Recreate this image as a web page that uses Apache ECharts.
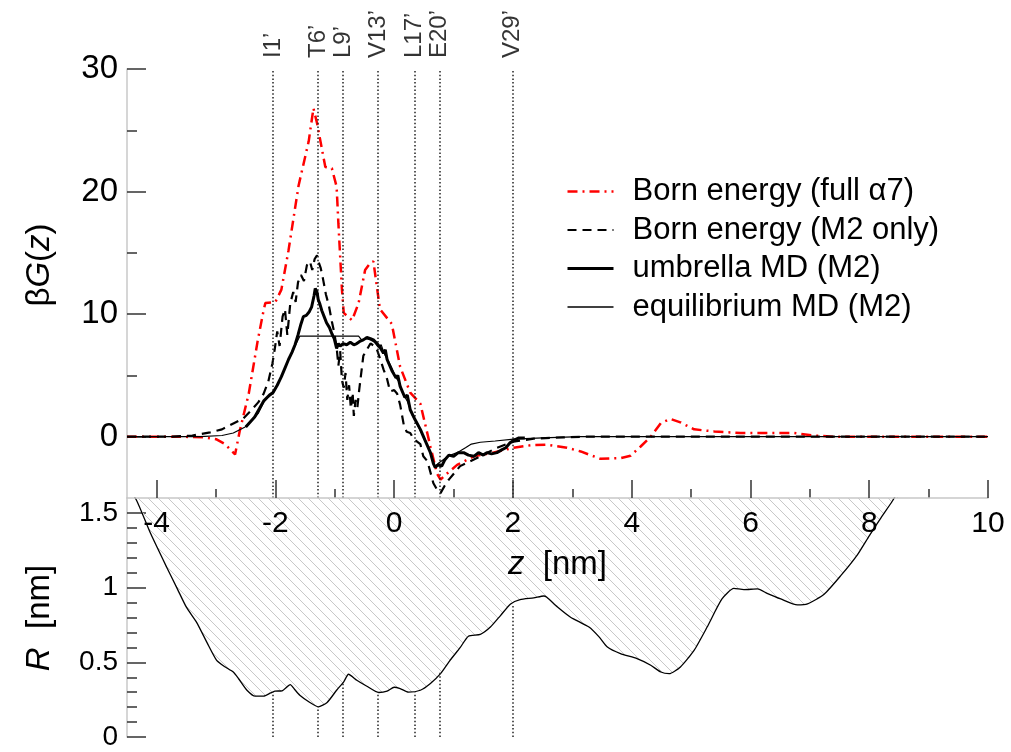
<!DOCTYPE html>
<html>
<head>
<meta charset="utf-8">
<script src="https://cdn.jsdelivr.net/npm/echarts@6/dist/echarts.min.js"></script>
<style>
html, body { margin: 0; padding: 0; background: #fff; }
#main { width: 1011px; height: 752px; }
</style>
</head>
<body>
<div id="main"></div>
<script>
(function() {
"use strict";

    // Born energy (full alpha7), [z, betaG]
    var bornFull = [[-4.5,0],[-3.6,0],[-3.2,-0.05],[-3.0,-0.2],[-2.85,-0.6],[-2.68,-1.45],[-2.6,0.5],[-2.45,3.5],
        [-2.3,7.8],[-2.2,10.3],[-2.17,10.9],[-2.0,11.0],[-1.9,12.0],[-1.78,15.2],[-1.61,20.5],[-1.44,24.1],
        [-1.36,26.8],[-1.30,25.6],[-1.16,22.0],[-1.05,21.9],[-0.97,20.4],[-0.94,17.4],[-0.88,12.0],[-0.85,10.1],
        [-0.71,9.5],[-0.60,10.9],[-0.49,13.6],[-0.40,14.2],[-0.35,14.3],[-0.24,10.4],[-0.04,9.2],[0.10,5.7],
        [0.27,3.6],[0.44,2.7],[0.61,-0.8],[0.72,-3.0],[0.78,-3.5],[0.89,-3.0],[1.06,-2.3],[1.34,-1.6],
        [1.62,-1.35],[2.01,-0.9],[2.3,-0.7],[2.57,-0.65],[2.91,-0.9],[3.14,-1.2],[3.47,-1.8],[3.81,-1.75],
        [3.98,-1.55],[4.15,-0.8],[4.32,0.0],[4.49,1.1],[4.65,1.45],[4.82,1.17],[5.05,0.6],[5.39,0.43],
        [5.83,0.3],[6.28,0.3],[6.73,0.3],[7.07,0.1],[7.4,0],[10,0]];

    // Born energy (M2 only)
    var bornM2 = [[-4.5,0],[-3.8,0],[-3.4,0.1],[-3.1,0.35],[-2.9,0.6],[-2.7,1.1],[-2.54,1.5],[-2.4,2.2],
        [-2.29,2.8],[-2.2,3.5],[-2.12,4.5],[-2.05,6.0],[-2.01,7.2],[-1.97,8.6],[-1.93,7.4],[-1.88,9.8],
        [-1.84,10.4],[-1.80,8.3],[-1.75,10.9],[-1.70,11.8],[-1.66,11.0],[-1.62,12.6],[-1.57,13.2],[-1.52,12.7],
        [-1.47,14.0],[-1.42,14.3],[-1.38,13.6],[-1.34,14.5],[-1.30,14.8],[-1.27,14.2],[-1.24,13.8],[-1.20,12.9],
        [-1.15,11.6],[-1.10,10.7],[-1.05,9.4],[-1.01,8.5],[-0.97,7.3],[-0.94,5.8],[-0.91,7.0],[-0.88,4.6],
        [-0.85,4.0],[-0.82,5.2],[-0.79,3.0],[-0.76,4.2],[-0.73,2.3],[-0.70,3.6],[-0.68,1.7],[-0.65,3.0],
        [-0.62,2.4],[-0.59,3.8],[-0.56,5.0],[-0.52,6.6],[-0.46,7.1],[-0.40,7.6],[-0.33,7.4],[-0.29,7.1],
        [-0.22,6.1],[-0.18,5.5],[-0.12,4.7],[-0.07,3.7],[0.0,3.8],[0.05,3.5],[0.10,2.6],[0.16,1.0],
        [0.21,0.4],[0.27,0.3],[0.33,-0.2],[0.44,-0.6],[0.49,-1.6],[0.56,-2.0],[0.61,-2.9],[0.66,-3.8],
        [0.72,-4.3],[0.78,-4.6],[0.85,-4.0],[0.92,-3.5],[1.11,-2.4],[1.45,-1.6],[1.73,-0.9],[2.01,-0.4],
        [2.35,-0.16],[2.85,-0.05],[3.2,0],[10,0]];

    // umbrella MD (M2)
    var umbrella = [[-2.5,0.8],[-2.35,1.6],[-2.2,2.9],[-2.1,3.4],[-2.04,3.6],[-1.97,4.2],[-1.90,4.9],[-1.84,5.6],
        [-1.78,6.3],[-1.72,6.9],[-1.67,7.5],[-1.62,8.3],[-1.57,9.2],[-1.53,9.8],[-1.48,9.9],[-1.43,10.2],
        [-1.39,10.6],[-1.35,11.5],[-1.33,12.1],[-1.30,11.8],[-1.28,11.2],[-1.25,10.8],[-1.22,10.3],[-1.18,9.8],
        [-1.14,9.3],[-1.09,8.9],[-1.05,8.4],[-1.01,8.0],[-0.97,7.2],[-0.94,7.6],[-0.91,7.4],[-0.86,7.6],
        [-0.80,7.5],[-0.74,7.7],[-0.68,7.5],[-0.63,7.6],[-0.57,7.8],[-0.52,7.9],[-0.46,8.1],[-0.40,8.0],
        [-0.35,7.9],[-0.29,7.6],[-0.24,7.3],[-0.18,6.8],[-0.15,7.1],[-0.12,6.3],[-0.04,5.4],[0.03,4.8],
        [0.06,5.0],[0.10,4.1],[0.18,3.2],[0.22,3.4],[0.27,2.2],[0.35,1.4],[0.44,0.6],[0.52,-0.3],
        [0.61,-1.3],[0.66,-2.2],[0.69,-2.5],[0.74,-2.3],[0.80,-2.4],[0.85,-1.9],[0.92,-1.5],[1.0,-1.6],
        [1.08,-1.3],[1.17,-1.3],[1.25,-1.5],[1.34,-1.6],[1.42,-1.3],[1.50,-1.5],[1.56,-1.3],[1.64,-1.4],
        [1.73,-1.3],[1.80,-1.1],[1.88,-0.9],[1.95,-0.5],[2.01,-0.3],[2.1,-0.1],[2.2,-0.1]];

    // equilibrium MD (M2)
    var equil = [[-4.5,0],[-3.5,0],[-3.27,0.0],[-2.9,0.1],[-2.71,0.3],[-2.51,0.8],[-2.38,1.4],[-2.29,1.9],
        [-2.18,3.0],[-2.1,3.3],[-2.04,3.55],[-1.97,4.2],[-1.90,4.9],[-1.78,6.3],[-1.67,7.4],[-1.59,8.2],
        [-0.60,8.2],[-0.55,7.9],[-0.47,8.0],[-0.40,7.9],[-0.33,7.7],[-0.27,7.3],[-0.22,7.5],[-0.16,6.7],
        [-0.10,6.2],[-0.04,5.6],[0.03,4.8],[0.08,4.5],[0.14,3.6],[0.22,2.9],[0.30,1.8],[0.38,1.1],
        [0.46,0.3],[0.55,-0.6],[0.62,-1.5],[0.69,-2.4],[0.76,-2.1],[0.85,-1.8],[0.95,-1.5],[1.06,-1.3],
        [1.2,-0.9],[1.3,-0.6],[1.45,-0.45],[1.7,-0.35],[2.01,-0.2],[2.5,-0.1],[3.14,0],[10,0]];

    // pore radius R(z) [nm]
    var radius = [[-4.5,1.68],[-4.34,1.585],[-4.1,1.36],[-3.83,1.135],[-3.65,0.99],[-3.5,0.869],[-3.33,0.769],
        [-3.15,0.63],[-2.99,0.513],[-2.85,0.47],[-2.71,0.435],[-2.62,0.39],[-2.48,0.313],[-2.34,0.273],
        [-2.20,0.273],[-2.08,0.295],[-2.01,0.307],[-1.89,0.309],[-1.75,0.351],[-1.68,0.32],[-1.59,0.28],
        [-1.42,0.231],[-1.28,0.202],[-1.13,0.231],[-0.97,0.313],[-0.85,0.369],[-0.77,0.42],[-0.63,0.38],
        [-0.46,0.34],[-0.26,0.298],[-0.12,0.307],[0,0.333],[0.10,0.324],[0.24,0.3],[0.44,0.313],
        [0.61,0.358],[0.78,0.424],[0.94,0.513],[1.11,0.598],[1.25,0.675],[1.45,0.687],[1.62,0.736],
        [1.79,0.813],[1.96,0.891],[2.12,0.92],[2.35,0.931],[2.52,0.944],[2.57,0.935],[2.75,0.87],
        [2.97,0.802],[3.28,0.736],[3.45,0.67],[3.59,0.602],[3.81,0.558],[4.09,0.524],[4.32,0.48],
        [4.49,0.435],[4.63,0.424],[4.82,0.469],[5.05,0.58],[5.27,0.736],[5.52,0.924],[5.72,0.995],
        [5.89,0.987],[6.12,0.991],[6.28,0.962],[6.51,0.924],[6.79,0.884],[6.96,0.891],[7.24,0.956],
        [7.52,1.08],[7.80,1.22],[8.0,1.347],[8.20,1.469],[8.39,1.58],[8.6,1.72]];

    // pore-lining residues
    var residueNames = ['I1\u2019', 'T6\u2019', 'L9\u2019', 'V13\u2019', 'L17\u2019', 'E20\u2019', 'V29\u2019'];
    var residueZ = [-2.04, -1.28, -0.86, -0.27, 0.34, 0.76, 1.99];
    var residueR = [0.30, 0.20, 0.37, 0.30, 0.30, 0.43, 0.88];

    // ticks
    var zMajor = [-4, -2, 0, 2, 4, 6, 8, 10];
    var zMinor = [-3, -1, 1, 3, 5, 7, 9];
    var gMajor = [0, 10, 20, 30];
    var gMinor = [5, 15, 25];
    var rMajor = [0, 0.5, 1, 1.5];
    var rMinor = [0.1, 0.2, 0.3, 0.4, 0.6, 0.7, 0.8, 0.9, 1.1, 1.2, 1.3, 1.4];

    var FONT = 'Liberation Sans';
    var AXIS_GRAY = '#c8c8c8';
    var TICK = '#333';

    function hatch() { // 斜线填充
        var c = document.createElement('canvas');
        c.width = 10;
        c.height = 10;
        var g = c.getContext('2d');
        g.strokeStyle = '#c8c8c8';
        g.lineWidth = 1;
        g.beginPath();
        g.moveTo(-1, -1); g.lineTo(11, 11);
        g.moveTo(-1, 9); g.lineTo(1, 11);
        g.moveTo(9, -1); g.lineTo(11, 1);
        g.stroke();
        return c;
    }

    // 只画刻度的坐标轴
    function tickAxis(grid, vals, len, extra) {
        var a = {
            type: 'value',
            gridIndex: grid,
            axisLine: { show: false, onZero: false },
            splitLine: { show: false },
            axisLabel: { show: false },
            axisTick: { show: true, inside: true, length: len, customValues: vals,
                lineStyle: { color: TICK, width: 1.5 } }
        };
        for (var k in extra) a[k] = extra[k];
        return a;
    }

    var labelPts = [];
    for (var i = 0; i < residueZ.length; i++) {
        labelPts.push({ name: residueNames[i], value: [residueZ[i], 30] });
    }
    var topLines = [];
    var bottomLines = [];
    for (var j = 0; j < residueZ.length; j++) {
        topLines.push({ xAxis: residueZ[j] });
        bottomLines.push([{ coord: [residueZ[j], 0] }, { coord: [residueZ[j], residueR[j]] }]);
    }
    var dotted = { color: '#222', width: 1.5, type: [1.5, 2.2] };

    var xMain = tickAxis(0, zMajor, 18, { min: -4.5, max: 10, position: 'bottom', z: 10,
        name: '{i|z}{n|  [nm]}', nameLocation: 'middle', nameGap: 50,
        nameTextStyle: { rich: {
            i: { fontFamily: FONT, fontSize: 33, fontStyle: 'italic', color: '#000' },
            n: { fontFamily: FONT, fontSize: 33, color: '#000' } } } });
    xMain.axisLine = { show: true, onZero: false, lineStyle: { color: AXIS_GRAY, width: 1.5 } };
    xMain.axisLabel = { show: true, customValues: zMajor, margin: 11, color: '#000',
        fontFamily: FONT, fontSize: 30 };

    var yTop = tickAxis(0, gMajor, 19, { min: -5, max: 30, position: 'left' });
    yTop.axisLine = { show: true, onZero: false, lineStyle: { color: AXIS_GRAY, width: 1.5 } };
    yTop.axisLabel = { show: true, customValues: gMajor, margin: 9, color: '#000',
        fontFamily: FONT, fontSize: 33 };

    var yBot = tickAxis(1, rMajor, 19, { min: 0, max: 1.6, position: 'left' });
    yBot.axisLine = { show: true, onZero: false, lineStyle: { color: AXIS_GRAY, width: 1.5 } };
    yBot.axisLabel = { show: true, customValues: rMajor, margin: 9, color: '#000',
        fontFamily: FONT, fontSize: 28 };

    var option = {
        animation: false,
        backgroundColor: '#fff',
        grid: [
            { left: 127, right: 23, top: 69, height: 429 },
            { left: 127, right: 23, top: 498, height: 239 }
        ],
        xAxis: [
            xMain,
            tickAxis(0, zMinor, 9, { min: -4.5, max: 10, position: 'bottom', offset: 0 }),
            { type: 'value', gridIndex: 1, min: -4.5, max: 10, show: false }
        ],
        yAxis: [
            yTop,
            tickAxis(0, gMinor, 10, { min: -5, max: 30, position: 'left', offset: 0 }),
            yBot,
            tickAxis(1, rMinor, 10, { min: 0, max: 1.6, position: 'left', offset: 0 })
        ],
        legend: {
            data: [
                { name: 'Born energy (full \u03b17)', lineStyle: { width: 2.5 } },
                { name: 'Born energy (M2 only)', lineStyle: { width: 2.2 } },
                { name: 'umbrella MD (M2)', lineStyle: { width: 3 } },
                { name: 'equilibrium MD (M2)', lineStyle: { width: 1.3 } }
            ],
            orient: 'vertical',
            left: 566,
            top: 176,
            padding: 0,
            itemWidth: 46,
            itemHeight: 14,
            itemGap: 7.5,
            itemStyle: { opacity: 0 },
            textStyle: { fontFamily: FONT, fontSize: 31, color: '#000', padding: [0, 0, 0, 14] }
        },
        graphic: [
            { type: 'text', x: 40, y: 265, rotation: Math.PI / 2,
                style: { text: '{n|\u03b2}{i|G}{n|(}{i|z}{n|)}', align: 'center', verticalAlign: 'middle',
                    rich: { i: { fontFamily: FONT, fontSize: 33, fontStyle: 'italic', fill: '#000' },
                            n: { fontFamily: FONT, fontSize: 33, fill: '#000' } } } },
            { type: 'text', x: 40, y: 618, rotation: Math.PI / 2,
                style: { text: '{i|R}{n|  [nm]}', align: 'center', verticalAlign: 'middle',
                    rich: { i: { fontFamily: FONT, fontSize: 33, fontStyle: 'italic', fill: '#000' },
                            n: { fontFamily: FONT, fontSize: 33, fill: '#000' } } } }
        ],
        series: [
            {
                name: 'residues',
                type: 'scatter',
                xAxisIndex: 0, yAxisIndex: 0,
                symbolSize: 0,
                silent: true,
                data: labelPts,
                label: { show: true, position: 'top', distance: 11, rotate: 90, align: 'left',
                    verticalAlign: 'middle', formatter: '{b}', fontFamily: FONT, fontSize: 24, color: '#000' },
                markLine: { silent: true, symbol: 'none', label: { show: false },
                    lineStyle: dotted, data: topLines }
            },
            {
                name: 'Born energy (full \u03b17)',
                type: 'line',
                xAxisIndex: 0, yAxisIndex: 0,
                symbol: 'none',
                data: bornFull,
                lineStyle: { color: '#ff0000', width: 2.5, type: [10, 5, 2, 5] },
                itemStyle: { color: '#ff0000' },
                z: 3
            },
            {
                name: 'Born energy (M2 only)',
                type: 'line',
                xAxisIndex: 0, yAxisIndex: 0,
                symbol: 'none',
                data: bornM2,
                lineStyle: { color: '#000', width: 2.2, type: [9, 6] },
                itemStyle: { color: '#000' },
                z: 4
            },
            {
                name: 'umbrella MD (M2)',
                type: 'line',
                xAxisIndex: 0, yAxisIndex: 0,
                symbol: 'none',
                data: umbrella,
                lineStyle: { color: '#000', width: 3 },
                itemStyle: { color: '#000' },
                z: 5
            },
            {
                name: 'equilibrium MD (M2)',
                type: 'line',
                xAxisIndex: 0, yAxisIndex: 0,
                symbol: 'none',
                data: equil,
                lineStyle: { color: '#000', width: 1.2 },
                itemStyle: { color: '#000' },
                z: 5
            },
            {
                name: 'R',
                type: 'line',
                xAxisIndex: 2, yAxisIndex: 2,
                symbol: 'none',
                smooth: 0.2,
                data: radius,
                lineStyle: { color: '#000', width: 1.3 },
                areaStyle: { origin: 'end', opacity: 1, color: { image: hatch(), repeat: 'repeat' } },
                markLine: { silent: true, symbol: 'none', label: { show: false },
                    lineStyle: dotted, data: bottomLines }
            }
        ]
    };

    var chart = echarts.init(document.getElementById('main'));
    chart.setOption(option);
})();
</script>
</body>
</html>
